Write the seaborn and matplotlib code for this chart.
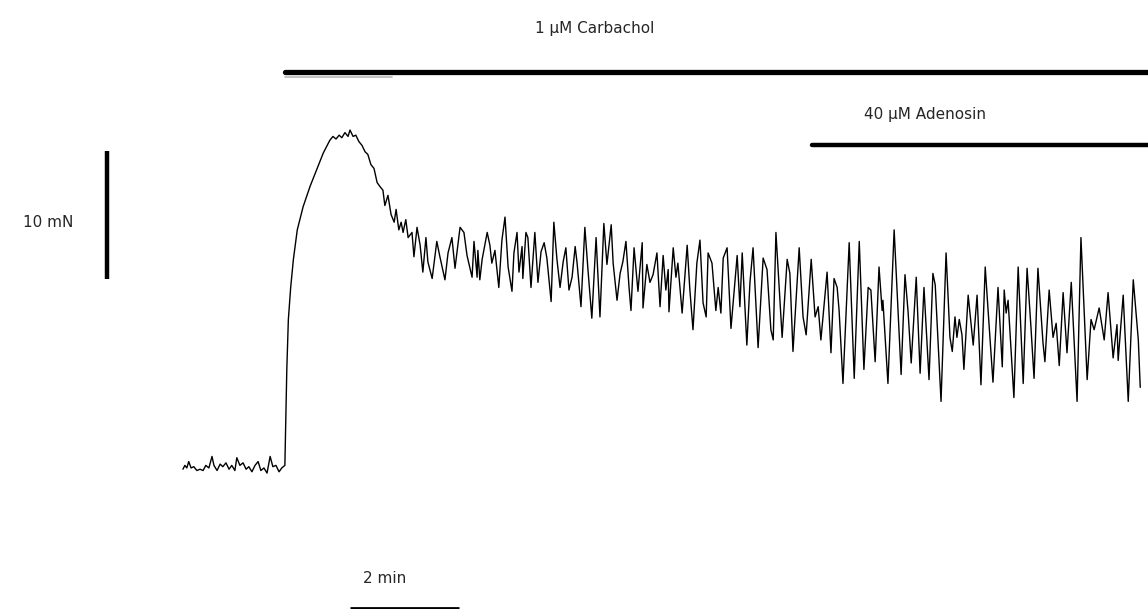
import numpy as np
import pandas as pd
import matplotlib
matplotlib.use("Agg")
import matplotlib.pyplot as plt
import seaborn as sns

# ---------------- data (time in trace units, force in mN) ----------------
baseline_t = [0.00, 0.05, 0.10, 0.15, 0.21, 0.28, 0.36, 0.44, 0.52, 0.59, 0.67, 0.75, 0.80,
              0.88, 0.96, 1.03, 1.11, 1.19, 1.26, 1.34, 1.39, 1.47, 1.55, 1.63, 1.70, 1.78,
              1.86, 1.94, 2.01, 2.09, 2.17, 2.25, 2.32, 2.40, 2.48, 2.55, 2.63]
baseline_f = [-0.1, 0.2, 0.0, 0.5, 0.0, 0.1, -0.2, -0.1, -0.2, 0.2, 0.0, 0.9, 0.2,
              -0.2, 0.3, 0.1, 0.4, -0.1, 0.2, -0.2, 0.8, 0.2, 0.4, -0.1, 0.1, -0.3,
              0.2, 0.5, -0.2, 0.0, -0.4, 0.9, 0.1, 0.2, -0.3, 0.0, 0.2]

peak_t = [2.68, 2.72, 2.78, 2.85, 2.95, 3.10, 3.28, 3.45, 3.62, 3.79, 3.87, 3.95, 4.03,
          4.10, 4.18, 4.26, 4.31, 4.39, 4.46, 4.54, 4.62, 4.70, 4.77, 4.85, 4.93, 5.01,
          5.08, 5.16, 5.21, 5.29, 5.37, 5.45, 5.50, 5.57, 5.63]
peak_f = [7.7, 11.6, 14.1, 16.3, 18.6, 20.4, 22.0, 23.3, 24.6, 25.6, 25.9, 25.7, 26.0,
          25.8, 26.2, 25.9, 26.4, 25.9, 26.0, 25.5, 25.2, 24.7, 24.5, 23.7, 23.4, 22.3,
          22.0, 21.7, 20.5, 21.3, 19.8, 19.2, 20.2, 18.6, 19.2]

plateau_t = [5.68, 5.75, 5.81, 5.91, 5.96, 6.04, 6.12, 6.19, 6.27, 6.32, 6.43, 6.55, 6.63,
             6.76, 6.84, 6.94, 7.02, 7.15, 7.25, 7.33, 7.46, 7.51, 7.59, 7.61, 7.66, 7.72,
             7.85, 7.92, 7.97, 8.05, 8.15, 8.23, 8.31, 8.39, 8.49, 8.54, 8.62, 8.67, 8.75,
             8.77, 8.85, 8.90, 8.98, 9.08, 9.16, 9.24, 9.32, 9.39, 9.50, 9.57, 9.65, 9.73,
             9.81, 9.88, 9.96, 10.04, 10.12, 10.17, 10.27, 10.37, 10.45, 10.55, 10.66,
             10.76, 10.86, 10.94, 11.05, 11.10, 11.20, 11.28, 11.35, 11.43, 11.51]
plateau_f = [18.4, 19.4, 18.0, 18.4, 16.5, 18.8, 17.4, 15.3, 18.0, 16.1, 14.8, 17.7, 16.5,
             14.7, 16.8, 18.0, 15.6, 18.8, 18.4, 16.6, 14.9, 17.7, 14.9, 17.0, 14.7, 16.3,
             18.4, 17.4, 16.0, 17.0, 14.1, 17.8, 19.6, 15.7, 13.8, 16.8, 18.4, 15.3, 17.3,
             14.8, 18.4, 18.0, 14.1, 18.4, 14.5, 16.9, 17.6, 16.4, 13.0, 19.2, 16.3, 14.1,
             16.1, 17.2, 13.9, 14.9, 17.3, 16.0, 12.6, 18.8, 15.5, 11.7, 18.0,
             11.8, 19.1, 15.9, 19.0, 16.0, 13.1, 15.2, 16.1, 17.7, 14.1]

oscill_t = [11.56, 11.64, 11.74, 11.85, 11.87, 11.97, 12.05, 12.13, 12.23, 12.31, 12.39,
            12.46, 12.52, 12.54, 12.65, 12.72, 12.77, 12.88, 13.01, 13.08, 13.16, 13.26,
            13.34, 13.42, 13.50, 13.55, 13.65, 13.75, 13.81, 13.88, 13.94, 14.04, 14.14,
            14.30, 14.37, 14.43, 14.55, 14.63, 14.71, 14.84, 14.97, 15.07, 15.17, 15.23,
            15.30, 15.46, 15.59, 15.66, 15.74, 15.90, 16.00, 16.08]
oscill_f = [12.3, 17.2, 13.8, 17.6, 12.5, 15.9, 14.5, 15.1, 16.8, 12.6, 16.6,
            13.9, 15.5, 12.2, 17.2, 14.9, 16.0, 12.1, 17.4, 13.9, 10.8, 16.0,
            17.8, 12.9, 11.8, 16.8, 16.0, 12.3, 14.1, 12.1, 16.4, 17.2, 10.9,
            16.6, 12.6, 16.8, 9.6, 14.5, 17.2, 9.4, 16.4, 15.5, 10.8, 10.0,
            18.4, 10.2, 16.3, 15.2, 9.1, 17.2, 11.8, 10.4]

adenosin_t = [16.21, 16.31, 16.39, 16.46, 16.62, 16.72, 16.80, 16.88, 16.93, 17.03, 17.19,
              17.32, 17.45, 17.57, 17.68, 17.75, 17.86, 17.96, 18.04, 18.06, 18.19, 18.35,
              18.53, 18.63, 18.71, 18.79, 18.92, 19.02, 19.12, 19.25, 19.35, 19.41, 19.56,
              19.69, 19.79, 19.85, 19.92, 19.97, 20.03, 20.10, 20.15, 20.26, 20.39, 20.49,
              20.59, 20.70, 20.77, 20.90, 21.03, 21.14, 21.19, 21.24, 21.29, 21.44, 21.55,
              21.68, 21.78, 21.88, 21.96, 22.06, 22.19, 22.24, 22.35, 22.45, 22.53, 22.61,
              22.71, 22.81, 22.92, 23.07, 23.17, 23.33, 23.43, 23.51, 23.64, 23.77, 23.87,
              24.00, 24.10, 24.13, 24.26, 24.39, 24.52, 24.65, 24.70]
adenosin_f = [16.3, 11.8, 12.6, 10.0, 15.3, 9.0, 14.8, 14.1, 12.3, 6.6, 17.6,
              7.0, 17.7, 7.7, 14.1, 13.9, 8.3, 15.7, 12.3, 13.1, 6.6, 18.6,
              7.3, 15.1, 12.2, 8.2, 14.9, 7.4, 14.1, 6.9, 15.2, 14.3, 5.2,
              16.8, 10.2, 9.1, 11.8, 10.2, 11.6, 10.4, 7.7, 13.5, 9.6, 13.5,
              6.5, 15.7, 12.5, 6.7, 14.1, 7.9, 13.9, 12.1, 13.1, 5.5, 15.7,
              6.6, 15.6, 11.0, 7.0, 15.6, 9.8, 8.3, 13.9, 10.2, 11.3, 8.0,
              13.7, 9.0, 14.5, 5.2, 18.0, 6.9, 11.6, 10.8, 12.5, 10.0, 13.7,
              8.6, 11.2, 8.4, 13.5, 5.2, 14.7, 10.0, 6.3]

# drug application periods (trace time units) and labels
carbachol_start, carbachol_label = 2.63, "1 µM Carbachol"
adenosin_start, adenosin_label = 16.23, "40 µM Adenosin"
# scale bars (force in mN; time bar length as read in trace time units)
force_bar_mN, force_label = 10, "10 mN"
time_bar_len, time_label = 2.81, "2 min"

trace = pd.DataFrame({
    "t": baseline_t + peak_t + plateau_t + oscill_t + adenosin_t,
    "f": baseline_f + peak_f + plateau_f + oscill_f + adenosin_f,
})

# ---------------- figure ----------------
sns.set_style("white")
plt.rcParams["font.family"] = ["DejaVu Sans"]

fig = plt.figure(figsize=(11.48, 6.09), dpi=100)
ax = fig.add_axes([0, 0, 1, 1])

sns.lineplot(data=trace, x="t", y="f", ax=ax, sort=False, estimator=None,
             color="black", linewidth=1.0)

t_end = 24.90
x_min, x_max = -4.72, t_end
y_min, y_max = -11.02, 36.56

# drug bars
ax.plot([carbachol_start, t_end + 1], [30.9, 30.9], color="black", lw=3.8,
        solid_capstyle="round")
ax.plot([carbachol_start, 5.39], [30.55, 30.55], color="#b8b8b8", lw=1.2, zorder=1)
ax.text(10.63, 34.3, carbachol_label, ha="center", va="center", fontsize=11)

ax.plot([adenosin_start, t_end + 1], [25.2, 25.2], color="black", lw=3.2,
        solid_capstyle="round")
ax.text(19.15, 27.6, adenosin_label, ha="center", va="center", fontsize=11)

# force scale bar
ax.plot([-1.96, -1.96], [14.8, 14.8 + force_bar_mN], color="black", lw=3.2,
        solid_capstyle="butt")
ax.text(-3.48, 19.2, force_label, ha="center", va="center", fontsize=11)

# time scale bar
ax.plot([4.31, 4.31 + time_bar_len], [-10.95, -10.95], color="black", lw=2.0,
        solid_capstyle="butt")
ax.text(5.21, -8.6, time_label, ha="center", va="center", fontsize=11)

ax.set_xlim(x_min, x_max)
ax.set_ylim(y_min, y_max)
ax.set_axis_off()

fig.savefig("out.png", dpi=100, facecolor="white")
